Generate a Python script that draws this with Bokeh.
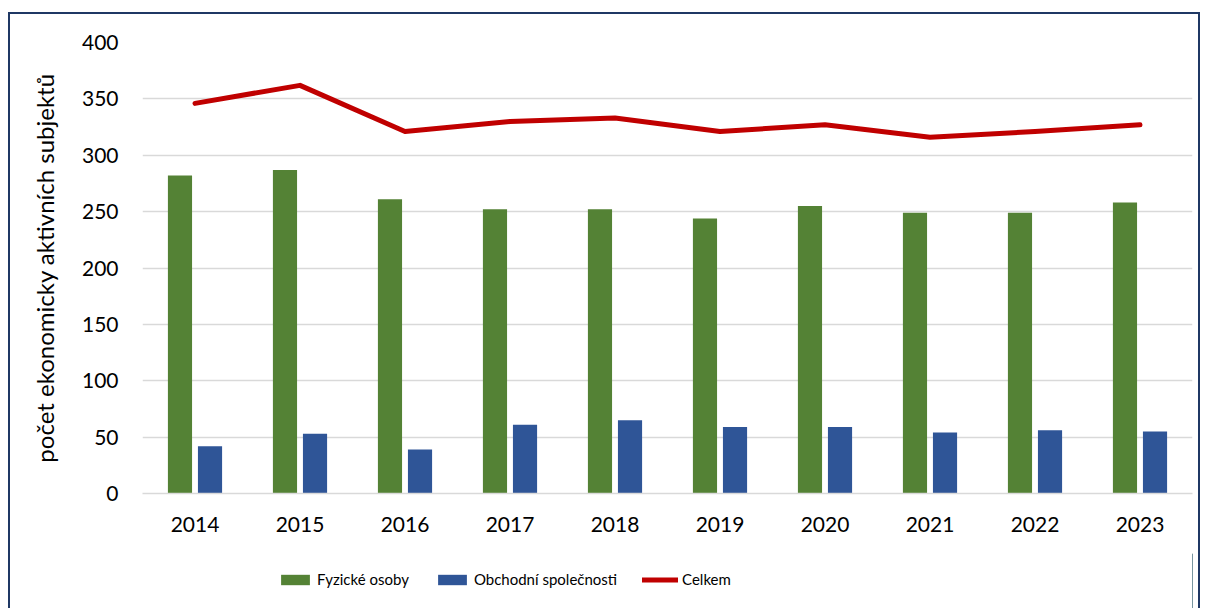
from bokeh.plotting import figure
from bokeh.models import FactorRange, Legend, LegendItem, ColumnDataSource, Range1d
from bokeh.layouts import column
from bokeh.transform import dodge
from bokeh.embed import file_html
from bokeh.resources import INLINE

years = ["2014", "2015", "2016", "2017", "2018", "2019", "2020", "2021", "2022", "2023"]
fyzicke = [282, 287, 261, 252, 252, 244, 255, 249, 249, 258]
obchodni = [42, 53, 39, 61, 65, 59, 59, 54, 56, 55]
celkem = [346, 362, 321, 330, 333, 321, 327, 316, 321, 327]
y_ticks = [0, 50, 100, 150, 200, 250, 300, 350, 400]
series_names = ["Fyzické osoby", "Obchodní společnosti", "Celkem"]

FONT = "Lato"
GREEN, BLUE, RED = "#548235", "#2F5597", "#C00000"
NAVY = "#1F3864"
src = ColumnDataSource(dict(year=years, fyz=fyzicke, obch=obchodni, cel=celkem))

p = figure(x_range=FactorRange(*years, range_padding=0), y_range=(0, 400),
           width=1192, height=541, output_backend="svg", toolbar_location=None,
           min_border_left=132, min_border_right=10, min_border_top=28, min_border_bottom=62)
p.styles = {"border-left": f"2px solid {NAVY}", "border-right": f"2px solid {NAVY}",
            "border-top": f"2px solid {NAVY}", "box-sizing": "border-box"}

p.vbar(x=dodge("year", -0.143, range=p.x_range), top="fyz", width=0.23, source=src,
       fill_color=GREEN, line_color=None)
p.vbar(x=dodge("year", 0.143, range=p.x_range), top="obch", width=0.23, source=src,
       fill_color=BLUE, line_color=None)
p.line(x="year", y="cel", source=src, line_color=RED, line_width=5,
       line_cap="round", line_join="round")

p.outline_line_color = None
p.xgrid.grid_line_color = None
p.ygrid.grid_line_color = "#D9D9D9"
p.ygrid.grid_line_width = 1.5
p.ygrid.ticker = y_ticks

p.yaxis.ticker = y_ticks
p.yaxis.axis_line_color = None
p.yaxis.major_tick_line_color = None
p.yaxis.minor_tick_line_color = None
p.yaxis.major_label_standoff = 18
p.yaxis.major_label_text_font = FONT
p.yaxis.major_label_text_font_size = "21px"
p.yaxis.major_label_text_color = "#000000"
p.yaxis.axis_label = "počet ekonomicky aktivních subjektů"
p.yaxis.axis_label_text_font = FONT
p.yaxis.axis_label_text_font_size = "24px"
p.yaxis.axis_label_text_font_style = "normal"
p.yaxis.axis_label_text_color = "#000000"
p.yaxis.axis_label_standoff = 20

p.xaxis.axis_line_color = "#D9D9D9"
p.xaxis.axis_line_width = 1.5
p.xaxis.major_tick_line_color = None
p.xaxis.minor_tick_line_color = None
p.xaxis.major_label_standoff = 17
p.xaxis.major_label_text_font = FONT
p.xaxis.major_label_text_font_size = "21px"
p.xaxis.major_label_text_color = "#000000"

# legend strip below the chart (swatch renderers sit outside its visible range)
leg = figure(width=1192, height=55, output_backend="svg", toolbar_location=None,
             x_range=Range1d(0, 1), y_range=Range1d(0, 1),
             x_axis_location=None, y_axis_location=None,
             min_border_left=0, min_border_right=0, min_border_top=0, min_border_bottom=0)
leg.styles = {"border-left": f"2px solid {NAVY}", "border-right": f"2px solid {NAVY}",
              "box-sizing": "border-box"}
leg.grid.visible = False
leg.outline_line_color = None
swatch = ColumnDataSource(dict(x=[5, 6], y=[5, 6]))
g1 = leg.vbar(x="x", top="y", width=0.1, source=swatch, fill_color=GREEN, line_color=None)
g2 = leg.vbar(x="x", top="y", width=0.1, source=swatch, fill_color=BLUE, line_color=None)
g3 = leg.line(x="x", y="y", source=swatch, line_color=RED, line_width=5, line_cap="round")

legend = Legend(items=[LegendItem(label=series_names[0], renderers=[g1]),
                       LegendItem(label=series_names[1], renderers=[g2]),
                       LegendItem(label=series_names[2], renderers=[g3])],
                orientation="horizontal", location=(135, 20),
                glyph_width=36, glyph_height=13, label_standoff=4, spacing=25,
                label_text_font=FONT, label_text_font_size="15px", label_text_color="#000000",
                border_line_color=None, background_fill_alpha=0, margin=0, padding=0)
leg.add_layout(legend, "center")

layout = column(p, leg, spacing=0, margin=(12, 0, 0, 8))

open("out.html", "w").write(file_html(layout, INLINE))
